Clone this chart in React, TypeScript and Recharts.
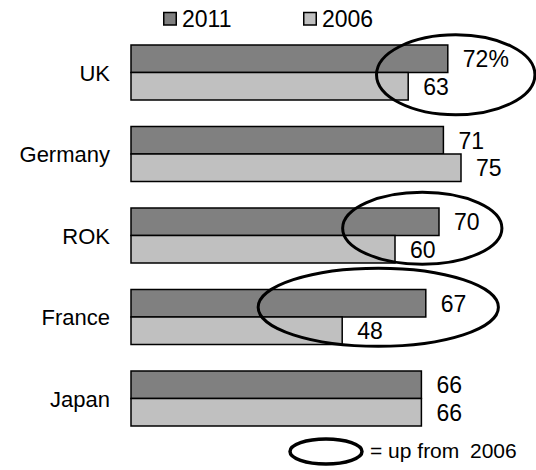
import React from 'react';
import { BarChart, Bar, XAxis, YAxis, Legend, LabelList, ReferenceArea } from 'recharts';

const countries = ['UK', 'Germany', 'ROK', 'France', 'Japan'];
const share2011 = [72, 71, 70, 67, 66];
const share2006 = [63, 75, 60, 48, 66];
const seriesNames = ['2011', '2006'];
const seriesColors = ['#808080', '#c0c0c0'];

const data = countries.map((country, i) => ({
  country,
  y2011: share2011[i],
  y2006: share2006[i],
}));

// Hand-drawn rings around countries that rose since 2006 (spans in axis units).
const rings = [
  { country: 'UK', from: 55.8, to: 91.8, shiftY: 2, ry: 40 },
  { country: 'ROK', from: 48.1, to: 84.3, shiftY: -7.5, ry: 36 },
  { country: 'France', from: 28.9, to: 83.5, shiftY: -10, ry: 39 },
].filter((r) => {
  const i = countries.indexOf(r.country);
  return share2011[i] > share2006[i];
});

const FONT = '"Liberation Sans", Arial, sans-serif';

const ValueLabel = (props: any) => {
  const vb = props.viewBox ?? props;
  const x = Number(vb.x ?? props.x);
  const y = Number(vb.y ?? props.y);
  const w = Number(vb.width ?? props.width);
  const h = Number(vb.height ?? props.height);
  const showPct = props.withPercent && props.index === 0;
  return (
    <text
      x={x + w + 15}
      y={y + h / 2}
      dy="0.36em"
      fontSize={23}
      fontFamily={FONT}
      fill="#000"
      textAnchor="start"
    >
      {props.value}
      {showPct ? '%' : ''}
    </text>
  );
};

const LegendRow = (props: any) => {
  const payload = props.payload && props.payload.length ? props.payload : [];
  const xs = [163, 303];
  return (
    <svg width={536} height={30} style={{ display: 'block', overflow: 'visible' }}>
      {seriesNames.map((name, i) => {
        const item = payload.find((p: any) => p.value === name);
        const color = item?.color ?? seriesColors[i];
        return (
          <g key={name}>
            <rect x={xs[i] + 0.75} y={12.5} width={12.5} height={12.5} fill={color} stroke="#000" strokeWidth={1.5} />
            <text x={xs[i] + 19} y={26.5} fontSize={23} fontFamily={FONT} fill="#000">
              {name}
            </text>
          </g>
        );
      })}
    </svg>
  );
};

const RingShape = (props: any) => {
  const { x, y, width, height, shiftY, ry } = props;
  return (
    <ellipse
      cx={x + width / 2}
      cy={y + height / 2 + shiftY}
      rx={width / 2}
      ry={ry}
      fill="none"
      stroke="#000"
      strokeWidth={3}
    />
  );
};

const UpNote = () => (
  <g>
    <ellipse cx={326} cy={451.5} rx={36} ry={12.5} fill="none" stroke="#000" strokeWidth={3.5} />
    <text y={458.3} fontSize={21} fontFamily={FONT} fill="#000">
      <tspan x={370}>= up from</tspan>
      <tspan x={470}>2006</tspan>
    </text>
  </g>
);

export default function App() {
  return (
    <div style={{ position: 'absolute', left: 0, top: 0, background: '#fff' }}>
      <BarChart
        width={536}
        height={470}
        data={data}
        layout="vertical"
        margin={{ top: 2, right: 9, bottom: 30.5, left: 0 }}
        barGap={0}
      >
        <XAxis type="number" domain={[0, 90]} hide />
        <YAxis
          type="category"
          dataKey="country"
          width={131}
          axisLine={false}
          tickLine={false}
          tickSize={0}
          tickMargin={21}
          tick={{ fontSize: 22, fill: '#000', fontFamily: FONT }}
        />
        <Legend
          verticalAlign="top"
          content={<LegendRow />}
          wrapperStyle={{ top: 0, left: 0, width: 536, height: 30 }}
        />
        <Bar
          dataKey="y2011"
          name={seriesNames[0]}
          fill={seriesColors[0]}
          stroke="#000"
          strokeWidth={1.5}
          barSize={27.5}
          isAnimationActive={false}
        >
          <LabelList dataKey="y2011" content={<ValueLabel withPercent />} />
        </Bar>
        <Bar
          dataKey="y2006"
          name={seriesNames[1]}
          fill={seriesColors[1]}
          stroke="#000"
          strokeWidth={1.5}
          barSize={27.5}
          isAnimationActive={false}
        >
          <LabelList dataKey="y2006" content={<ValueLabel />} />
        </Bar>
        {rings.map((r) => (
          <ReferenceArea
            key={r.country}
            x1={r.from}
            x2={r.to}
            y1={r.country}
            y2={r.country}
            ifOverflow="visible"
            zIndex={1000}
            shape={(p: any) => <RingShape {...p} shiftY={r.shiftY} ry={r.ry} />}
          />
        ))}
        <UpNote />
      </BarChart>
    </div>
  );
}
